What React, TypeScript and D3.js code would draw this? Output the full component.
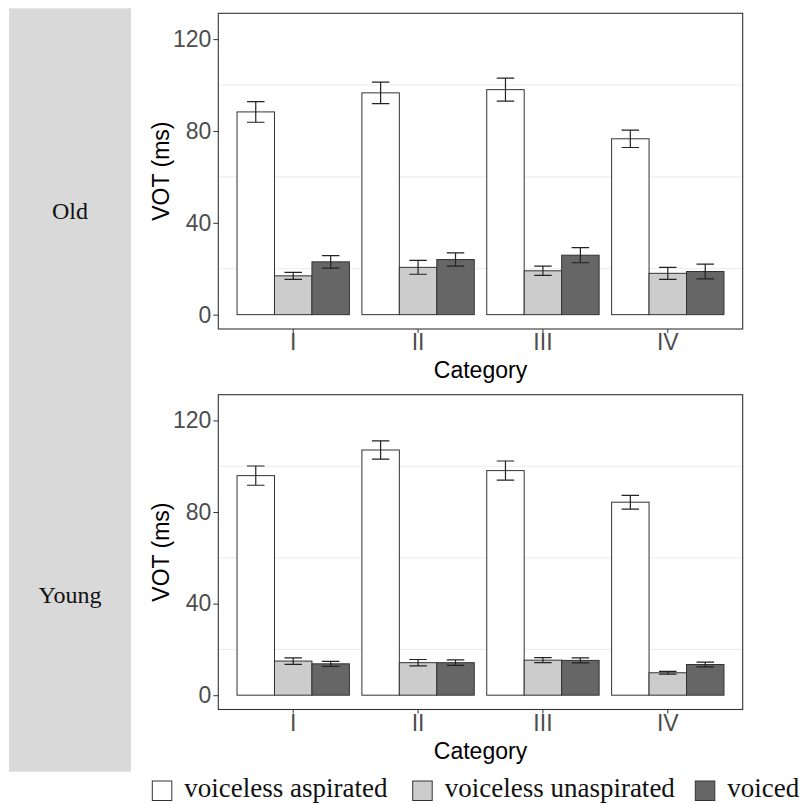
import React, { useRef, useEffect, useCallback } from 'react'
import * as d3 from 'd3'

const categories = ['I', 'II', 'III', 'IV']
const seriesNames = ['voiceless aspirated', 'voiceless unaspirated', 'voiced']
const seriesFills = ['#ffffff', '#cccccc', '#666666']
const yTicks = [0, 40, 80, 120]
const minorTicks = [20, 60, 100]

// Old speakers: means and error bar half-widths
const oldAspirated = [88.3, 96.6, 98.0, 76.6]
const oldAspiratedErr = [4.5, 4.7, 5.0, 3.8]
const oldUnaspirated = [16.9, 20.6, 19.1, 18.0]
const oldUnaspiratedErr = [1.5, 3.0, 2.0, 2.6]
const oldVoiced = [23.0, 24.0, 25.9, 18.8]
const oldVoicedErr = [2.7, 2.9, 3.3, 3.2]

// Young speakers
const youngAspirated = [95.9, 107.1, 98.1, 84.3]
const youngAspiratedErr = [4.2, 4.0, 4.2, 3.0]
const youngUnaspirated = [14.9, 14.2, 15.3, 9.8]
const youngUnaspiratedErr = [1.4, 1.4, 1.1, 0.6]
const youngVoiced = [13.7, 14.2, 15.2, 13.4]
const youngVoicedErr = [1.1, 1.2, 1.1, 1.0]

const panels = [
    { label: 'Old', means: [oldAspirated, oldUnaspirated, oldVoiced], errs: [oldAspiratedErr, oldUnaspiratedErr, oldVoicedErr], top: 13.3, bottom: 329, labelY: 219 },
    { label: 'Young', means: [youngAspirated, youngUnaspirated, youngVoiced], errs: [youngAspiratedErr, youngUnaspiratedErr, youngVoicedErr], top: 394.7, bottom: 709.5, labelY: 603 },
]

const W = 806
const H = 804
const left = 218.3
const right = 742.7
const sansFont = '"Liberation Sans", Arial, sans-serif'
const serifFont = '"Liberation Serif", "Times New Roman", serif'

const App = () => {
    const chartRef = useRef<HTMLDivElement>(null)

    const drawChart = useCallback(() => {
        if (!chartRef.current) return
        const svg = d3.select(chartRef.current)
            .append('svg')
            .attr('width', W)
            .attr('height', H)
            .style('position', 'absolute')
            .style('left', 0)
            .style('top', 0)

        // strip on the left
        svg.append('rect')
            .attr('x', 9).attr('y', 8.3)
            .attr('width', 122).attr('height', 763.4)
            .attr('fill', '#d9d9d9')

        const x = d3.scaleBand()
            .domain(categories)
            .range([left, right])
            .paddingInner(0)
            .paddingOuter(0.1)
        const step = x.bandwidth()
        const dodge = d3.scaleBand()
            .domain(seriesNames)
            .range([0, step * 0.9])

        panels.forEach(p => {
            const y = d3.scaleLinear()
                .domain([-6.25, 131.25])
                .range([p.bottom, p.top])

            svg.append('text')
                .attr('x', 70).attr('y', p.labelY)
                .attr('text-anchor', 'middle')
                .attr('font-family', serifFont)
                .attr('font-size', 24)
                .attr('fill', '#111')
                .text(p.label)

            const g = svg.append('g')

            // minor grid
            g.selectAll('line.grid')
                .data(minorTicks)
                .join('line')
                .attr('x1', left).attr('x2', right)
                .attr('y1', d => y(d)).attr('y2', d => y(d))
                .attr('stroke', '#ebebeb')
                .attr('stroke-width', 1)

            // bars
            seriesNames.forEach((s, si) => {
                g.selectAll(`rect.s${si}`)
                    .data(categories)
                    .join('rect')
                    .attr('x', (c) => (x(c) as number) + step * 0.05 + (dodge(s) as number))
                    .attr('y', (c, i) => y(p.means[si][i]))
                    .attr('width', dodge.bandwidth())
                    .attr('height', (c, i) => y(0) - y(p.means[si][i]))
                    .attr('fill', seriesFills[si])
                    .attr('stroke', '#333')
                    .attr('stroke-width', 1)
            })

            // error bars
            seriesNames.forEach((s, si) => {
                categories.forEach((c, i) => {
                    const cx = (x(c) as number) + step * 0.05 + (dodge(s) as number) + dodge.bandwidth() / 2
                    const hi = y(p.means[si][i] + p.errs[si][i])
                    const lo = y(p.means[si][i] - p.errs[si][i])
                    const cap = step * 0.07
                    const path = d3.path()
                    path.moveTo(cx - cap, hi); path.lineTo(cx + cap, hi)
                    path.moveTo(cx, hi); path.lineTo(cx, lo)
                    path.moveTo(cx - cap, lo); path.lineTo(cx + cap, lo)
                    g.append('path')
                        .attr('d', path.toString())
                        .attr('fill', 'none')
                        .attr('stroke', '#222')
                        .attr('stroke-width', 1.2)
                })
            })

            // border
            g.append('rect')
                .attr('x', left).attr('y', p.top)
                .attr('width', right - left).attr('height', p.bottom - p.top)
                .attr('fill', 'none')
                .attr('stroke', '#333')
                .attr('stroke-width', 1.1)

            const yAxis = g.append('g')
                .attr('transform', `translate(${left},0)`)
                .call(d3.axisLeft(y).tickValues(yTicks).tickSize(5).tickPadding(2).tickFormat(d3.format('d')))
            yAxis.select('.domain').remove()
            yAxis.selectAll('line').attr('stroke', '#333')
            yAxis.selectAll('text')
                .attr('font-family', sansFont)
                .attr('font-size', 23)
                .attr('fill', '#4d4d4d')

            const xAxis = g.append('g')
                .attr('transform', `translate(0,${p.bottom})`)
                .call(d3.axisBottom(x).tickSize(4).tickPadding(1))
            xAxis.select('.domain').remove()
            xAxis.selectAll('line').attr('stroke', '#333')
            xAxis.selectAll('text')
                .attr('font-family', sansFont)
                .attr('font-size', 23)
                .attr('fill', '#4d4d4d')

            g.append('text')
                .attr('x', (left + right) / 2)
                .attr('y', p.bottom + 49)
                .attr('text-anchor', 'middle')
                .attr('font-family', sansFont)
                .attr('font-size', 23)
                .attr('fill', '#000')
                .text('Category')

            g.append('text')
                .attr('transform', `translate(168.5,${(p.top + p.bottom) / 2}) rotate(-90)`)
                .attr('text-anchor', 'middle')
                .attr('font-family', sansFont)
                .attr('font-size', 23)
                .attr('fill', '#000')
                .text('VOT (ms)')
        })

        // legend
        const legendBoxX = [152.3, 412.7, 695.3]
        const legend = svg.append('g')
        seriesNames.forEach((s, si) => {
            legend.append('rect')
                .attr('x', legendBoxX[si]).attr('y', 781)
                .attr('width', 19.5).attr('height', 19.5)
                .attr('fill', seriesFills[si])
                .attr('stroke', '#333')
                .attr('stroke-width', 1)
            legend.append('text')
                .attr('x', legendBoxX[si] + 32)
                .attr('y', 797)
                .attr('font-family', serifFont)
                .attr('font-size', 27)
                .attr('fill', '#111')
                .text(s)
        })
    }, [])

    const destroyChart = useCallback(() => {
        if (chartRef.current) {
            d3.select(chartRef.current).select('svg').remove()
        }
    }, [])

    useEffect(() => {
        drawChart()
        return () => destroyChart()
    }, [drawChart, destroyChart])

    return <div ref={chartRef} style={{ width: W, height: H }}></div>
}

export default App
